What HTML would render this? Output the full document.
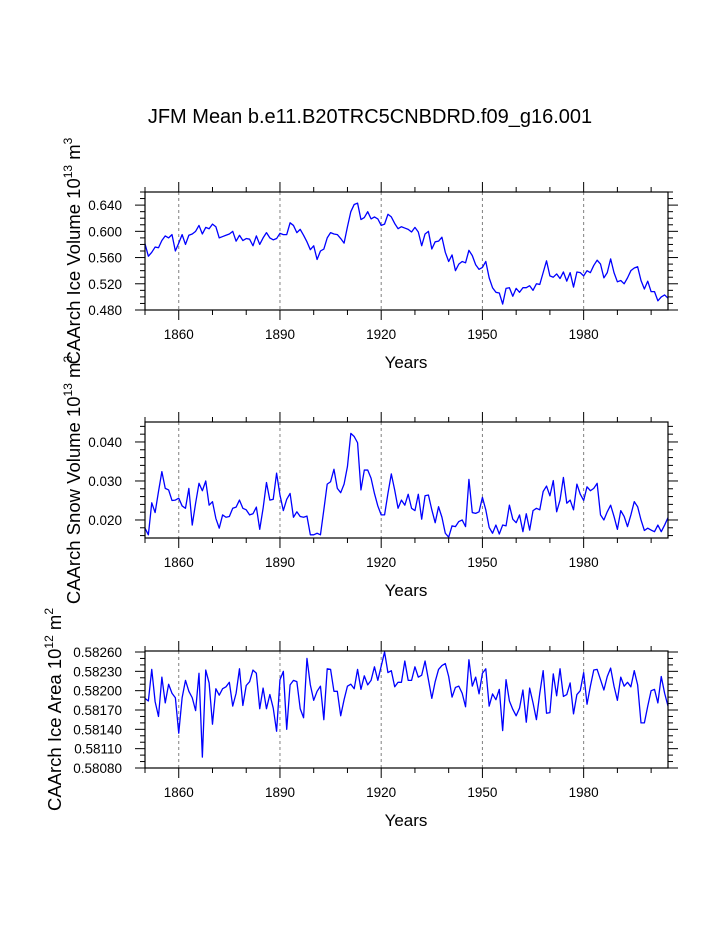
<!DOCTYPE html>
<html><head><meta charset="utf-8"><style>
html,body{margin:0;padding:0;background:#fff;}
svg{display:block;font-family:"Liberation Sans",Arial,sans-serif;}
</style></head><body>
<svg id="chart" width="723" height="935" viewBox="0 0 723 935">
<text x="370" y="123" text-anchor="middle" font-size="20">JFM Mean b.e11.B20TRC5CNBDRD.f09_g16.001</text>
</svg>
<script>
const years = [];
for (let y = 1850; y <= 2005; y++) years.push(y);
const iceVolume = [0.581,0.562,0.568,0.576,0.575,0.586,0.593,0.590,0.595,0.570,0.582,0.595,0.580,0.594,0.596,0.600,0.609,0.596,0.606,0.604,0.611,0.607,0.590,0.592,0.594,0.596,0.600,0.585,0.594,0.586,0.589,0.588,0.578,0.593,0.580,0.590,0.598,0.590,0.587,0.589,0.597,0.595,0.595,0.613,0.609,0.598,0.603,0.594,0.584,0.572,0.578,0.557,0.570,0.573,0.590,0.598,0.596,0.595,0.589,0.582,0.607,0.630,0.641,0.643,0.618,0.621,0.630,0.619,0.622,0.619,0.609,0.611,0.626,0.622,0.612,0.604,0.607,0.605,0.603,0.599,0.606,0.599,0.578,0.596,0.600,0.573,0.584,0.585,0.591,0.568,0.554,0.564,0.540,0.550,0.554,0.552,0.571,0.563,0.549,0.542,0.545,0.554,0.529,0.514,0.507,0.506,0.489,0.513,0.514,0.501,0.513,0.507,0.514,0.514,0.517,0.510,0.520,0.519,0.537,0.555,0.532,0.530,0.535,0.528,0.538,0.524,0.537,0.515,0.538,0.537,0.532,0.540,0.537,0.548,0.556,0.550,0.529,0.537,0.558,0.537,0.523,0.525,0.520,0.529,0.540,0.544,0.546,0.525,0.512,0.524,0.508,0.508,0.494,0.500,0.503,0.498];
const snowVolume = [0.0179,0.0162,0.0244,0.0219,0.0273,0.0324,0.0281,0.0277,0.0250,0.0251,0.0256,0.0236,0.0230,0.0281,0.0187,0.0243,0.0294,0.0275,0.0300,0.0238,0.0247,0.0204,0.0179,0.0213,0.0207,0.0209,0.0230,0.0233,0.0251,0.0230,0.0226,0.0213,0.0216,0.0233,0.0176,0.0230,0.0296,0.0251,0.0253,0.0320,0.0264,0.0224,0.0253,0.0268,0.0207,0.0221,0.0209,0.0207,0.0210,0.0162,0.0162,0.0166,0.0162,0.0226,0.0292,0.0298,0.0330,0.0281,0.0270,0.0292,0.0337,0.0422,0.0414,0.0398,0.0277,0.0328,0.0328,0.0307,0.0268,0.0236,0.0213,0.0213,0.0268,0.0318,0.0277,0.0230,0.0251,0.0238,0.0266,0.0230,0.0224,0.0266,0.0202,0.0262,0.0264,0.0226,0.0193,0.0234,0.0207,0.0166,0.0156,0.0185,0.0183,0.0196,0.0200,0.0183,0.0304,0.0219,0.0217,0.0221,0.0258,0.0226,0.0181,0.0166,0.0187,0.0164,0.0187,0.0185,0.0238,0.0202,0.0193,0.0213,0.0170,0.0216,0.0174,0.0224,0.0230,0.0226,0.0273,0.0287,0.0262,0.0301,0.0221,0.0251,0.0309,0.0243,0.0251,0.0226,0.0292,0.0266,0.0250,0.0285,0.0275,0.0281,0.0294,0.0213,0.0200,0.0221,0.0238,0.0209,0.0176,0.0224,0.0209,0.0183,0.0213,0.0247,0.0234,0.0200,0.0173,0.0179,0.0174,0.0170,0.0187,0.0170,0.0187,0.0206];
const iceArea = [0.58188,0.58184,0.58233,0.58183,0.58160,0.58221,0.58181,0.58210,0.58196,0.58189,0.58134,0.58189,0.58216,0.58199,0.58189,0.58169,0.58227,0.58097,0.58232,0.58212,0.58148,0.58203,0.58193,0.58203,0.58206,0.58213,0.58176,0.58196,0.58234,0.58177,0.58208,0.58214,0.58232,0.58227,0.58172,0.58204,0.58172,0.58194,0.58173,0.58137,0.58217,0.58230,0.58140,0.58209,0.58216,0.58214,0.58172,0.58158,0.58250,0.58209,0.58185,0.58199,0.58207,0.58155,0.58234,0.58233,0.58199,0.58199,0.58161,0.58186,0.58207,0.58210,0.58203,0.58233,0.58202,0.58223,0.58209,0.58216,0.58237,0.58216,0.58238,0.58260,0.58228,0.58231,0.58206,0.58213,0.58213,0.58246,0.58216,0.58216,0.58237,0.58221,0.58224,0.58246,0.58217,0.58188,0.58214,0.58233,0.58239,0.58242,0.58222,0.58190,0.58205,0.58207,0.58196,0.58175,0.58248,0.58207,0.58221,0.58195,0.58227,0.58234,0.58176,0.58195,0.58186,0.58202,0.58138,0.58217,0.58184,0.58171,0.58161,0.58173,0.58201,0.58151,0.58204,0.58181,0.58155,0.58196,0.58231,0.58165,0.58166,0.58226,0.58192,0.58234,0.58191,0.58194,0.58212,0.58164,0.58194,0.58200,0.58228,0.58179,0.58207,0.58232,0.58233,0.58217,0.58201,0.58222,0.58235,0.58207,0.58185,0.58221,0.58207,0.58213,0.58206,0.58231,0.58209,0.58150,0.58150,0.58176,0.58200,0.58202,0.58181,0.58222,0.58196,0.58176];
const xTickLabels = [1860,1890,1920,1950,1980];
const iceVolTicks = [0.48,0.52,0.56,0.60,0.64];
const snowTicks = [0.020,0.030,0.040];
const areaTicks = [0.58080,0.58110,0.58140,0.58170,0.58200,0.58230,0.58260];

const NS = 'http://www.w3.org/2000/svg';
const svg = document.getElementById('chart');
function mk(tag, attrs, parent) {
  const e = document.createElementNS(NS, tag);
  for (const k in attrs) e.setAttribute(k, attrs[k]);
  (parent || svg).appendChild(e);
  return e;
}
const X0 = 145, X1 = 668, XMIN = 1850, XMAX = 2005;
function xs(v) { return X0 + (v - XMIN) / (XMAX - XMIN) * (X1 - X0); }

function panel(cfg) {
  const g = mk('g', {});
  
  
  const ys = v => cfg.bot - (v - cfg.ymin) / (cfg.ymax - cfg.ymin) * (cfg.bot - cfg.top);
  xTickLabels.forEach(t => {
    const l = mk('line', {x1: xs(t), x2: xs(t), y1: cfg.top, y2: cfg.bot, stroke: '#808080', 'stroke-width': 1, 'stroke-dasharray': '3,3'}, g);
    
    
  });
  let d = '';
  cfg.data.forEach((v, i) => { d += (i ? 'L' : 'M') + xs(years[i]).toFixed(2) + ',' + ys(v).toFixed(2); });
  const p = mk('path', {d: d, fill: 'none', stroke: '#0000ff', 'stroke-width': 1.3, 'stroke-linejoin': 'round'}, g);
  
  
  const r = mk('rect', {x: X0, y: cfg.top, width: X1 - X0, height: cfg.bot - cfg.top, fill: 'none', stroke: '#000', 'stroke-width': 1.2}, g);
  
  
  for (let t = 1850; t <= 2000; t += 10) {
    const major = xTickLabels.indexOf(t) >= 0;
    const len = major ? 10 : 5;
    mk('line', {x1: xs(t), x2: xs(t), y1: cfg.bot, y2: cfg.bot + len, stroke: '#000', 'stroke-width': 1}, g);
    mk('line', {x1: xs(t), x2: xs(t), y1: cfg.top, y2: cfg.top - len, stroke: '#000', 'stroke-width': 1}, g);
  }
  xTickLabels.forEach(t => {
    const tx = mk('text', {x: xs(t), y: cfg.bot + 29, 'text-anchor': 'middle', 'font-size': 13.5}, g);
    tx.textContent = t;
    
    
  });
  const xt = mk('text', {x: 406, y: cfg.bot + 58, 'text-anchor': 'middle', 'font-size': 17}, g);
  xt.textContent = 'Years';
  
  
  const n = Math.round((cfg.ymax - cfg.ymin) / cfg.minor);
  for (let i = 0; i <= n + 1; i++) {
    const v = cfg.minorStart + i * cfg.minor;
    const y = ys(v);
    if (y < cfg.top - 0.5 || y > cfg.bot + 0.5) continue;
    const isMajor = cfg.ticks.some(t => Math.abs(t - v) < cfg.minor / 10);
    const len = isMajor ? 10 : 5;
    mk('line', {x1: X0, x2: X0 - len, y1: y, y2: y, stroke: '#000', 'stroke-width': 1}, g);
    mk('line', {x1: X1, x2: X1 + len, y1: y, y2: y, stroke: '#000', 'stroke-width': 1}, g);
  }
  cfg.ticks.forEach(t => {
    const tx = mk('text', {x: 122, y: ys(t) + 5, 'text-anchor': 'end', 'font-size': 13.5}, g);
    tx.textContent = t.toFixed(cfg.dec);
    
    
  });
  const cy = (cfg.top + cfg.bot) / 2;
  const yt = mk('text', {x: 0, y: 0, 'text-anchor': 'middle', 'font-size': 18.5, transform: 'translate(' + cfg.titleX + ',' + cy + ') rotate(-90)'}, g);
  
  
  yt.innerHTML = cfg.title + ' 10<tspan font-size="12" dy="-8">' + cfg.exp + '</tspan><tspan dy="8"> m</tspan><tspan font-size="12" dy="-8">' + cfg.unitExp + '</tspan>';
}

panel({name: 'ice-volume-panel', series: 'ice-volume-line', data: iceVolume, top: 192, bot: 310, ymin: 0.48, ymax: 0.66, ticks: iceVolTicks, minor: 0.01, minorStart: 0.48, dec: 3, title: 'CAArch Ice Volume', exp: '13', unitExp: '3', titleX: 80});
panel({name: 'snow-volume-panel', series: 'snow-volume-line', data: snowVolume, top: 422, bot: 538, ymin: 0.01538, ymax: 0.04512, ticks: snowTicks, minor: 0.002, minorStart: 0.016, dec: 3, title: 'CAArch Snow Volume', exp: '13', unitExp: '3', titleX: 80});
panel({name: 'ice-area-panel', series: 'ice-area-line', data: iceArea, top: 651, bot: 768, ymin: 0.5808, ymax: 0.5826155, ticks: areaTicks, minor: 0.0001, minorStart: 0.5808, dec: 5, title: 'CAArch Ice Area', exp: '12', unitExp: '2', titleX: 61});
</script>
</body></html>
